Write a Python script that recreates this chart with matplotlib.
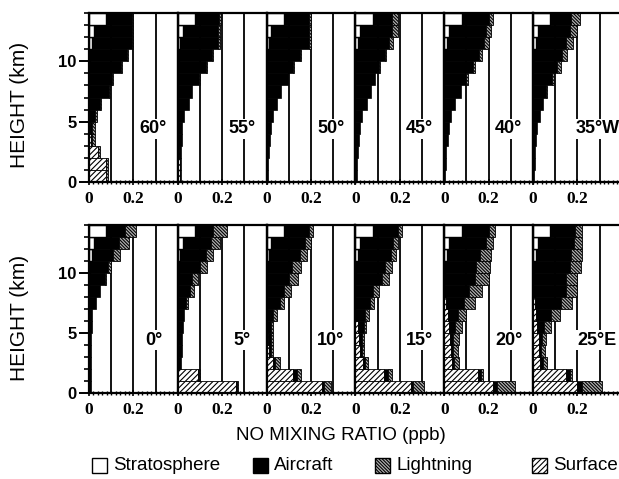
import numpy as np
import matplotlib.pyplot as plt
from matplotlib.patches import Rectangle
from matplotlib.ticker import MultipleLocator

plt.rcParams['font.family'] = ['Liberation Sans', 'DejaVu Sans']
plt.rcParams['hatch.linewidth'] = 0.8

# height bins 0-1 km ... 13-14 km (bottom to top)
height_bins = np.arange(14) + 0.5

# NO mixing ratio (ppb) by source, one list per panel, bins from the ground up
stratosphere = [0, 0, 0, 0, 0, 0, 0, 0, 0, 0, 0.004, 0.012, 0.022, 0.078]

top_labels = ['60°', '55°', '50°', '45°', '40°', '35°W']
surface_top = [
    [0.075, 0.075, 0.04, 0.01, 0.005, 0, 0, 0, 0, 0, 0, 0, 0, 0],
    [0.008, 0.008, 0.005, 0.003, 0, 0, 0, 0, 0, 0, 0, 0, 0, 0],
    [0, 0, 0, 0, 0, 0, 0, 0, 0, 0, 0, 0, 0, 0],
    [0, 0, 0, 0, 0, 0, 0, 0, 0, 0, 0, 0, 0, 0],
    [0, 0, 0, 0, 0, 0, 0, 0, 0, 0, 0, 0, 0, 0],
    [0, 0, 0, 0, 0, 0, 0, 0, 0, 0, 0, 0, 0, 0],
]
aircraft_top = [
    [0, 0, 0, 0.005, 0.01, 0.029, 0.051, 0.088, 0.105, 0.142, 0.165, 0.183, 0.173, 0.117],
    [0.007, 0.007, 0.01, 0.017, 0.02, 0.03, 0.05, 0.065, 0.095, 0.125, 0.151, 0.17, 0.158, 0.107],
    [0.005, 0.008, 0.01, 0.015, 0.02, 0.03, 0.045, 0.065, 0.095, 0.12, 0.146, 0.178, 0.168, 0.112],
    [0.005, 0.008, 0.01, 0.015, 0.02, 0.03, 0.05, 0.07, 0.09, 0.105, 0.131, 0.138, 0.143, 0.087],
    [0.005, 0.008, 0.01, 0.015, 0.02, 0.03, 0.05, 0.075, 0.1, 0.13, 0.151, 0.168, 0.168, 0.122],
    [0.005, 0.007, 0.01, 0.015, 0.02, 0.03, 0.045, 0.06, 0.085, 0.11, 0.126, 0.138, 0.143, 0.092],
]
lightning_top = [
    [0.01, 0.01, 0.01, 0.01, 0.01, 0.005, 0.005, 0.005, 0.005, 0.005, 0.005, 0.005, 0.005, 0.005],
    [0, 0, 0, 0, 0, 0, 0, 0, 0.005, 0.005, 0.005, 0.008, 0.01, 0.01],
    [0, 0, 0, 0, 0, 0, 0, 0, 0, 0.005, 0.005, 0.01, 0.01, 0.01],
    [0, 0, 0, 0, 0, 0, 0, 0, 0, 0.005, 0.005, 0.02, 0.025, 0.025],
    [0, 0, 0, 0, 0, 0, 0, 0, 0.005, 0.01, 0.015, 0.02, 0.02, 0.02],
    [0, 0, 0, 0, 0, 0, 0, 0.005, 0.01, 0.015, 0.025, 0.03, 0.035, 0.04],
]

bottom_labels = ['0°', '5°', '10°', '15°', '20°', '25°E']
surface_bottom = [
    [0, 0, 0, 0, 0, 0, 0, 0, 0, 0, 0, 0, 0, 0],
    [0.26, 0.09, 0.003, 0, 0, 0, 0, 0, 0, 0, 0, 0, 0, 0],
    [0.25, 0.12, 0.03, 0.01, 0.005, 0, 0, 0, 0, 0, 0, 0, 0, 0],
    [0.25, 0.13, 0.035, 0.02, 0.015, 0.01, 0, 0, 0, 0, 0, 0, 0, 0],
    [0.22, 0.15, 0.035, 0.03, 0.025, 0.02, 0.015, 0.01, 0, 0, 0, 0, 0, 0],
    [0.2, 0.15, 0.03, 0.025, 0.025, 0.02, 0.015, 0.01, 0, 0, 0, 0, 0, 0],
]
aircraft_bottom = [
    [0.008, 0.008, 0.008, 0.008, 0.01, 0.012, 0.015, 0.03, 0.05, 0.07, 0.081, 0.098, 0.113, 0.085],
    [0.005, 0.005, 0.012, 0.018, 0.018, 0.025, 0.03, 0.035, 0.055, 0.065, 0.096, 0.113, 0.128, 0.082],
    [0.01, 0.015, 0.01, 0.01, 0.015, 0.02, 0.03, 0.06, 0.08, 0.1, 0.111, 0.138, 0.153, 0.112],
    [0.01, 0.015, 0.01, 0.01, 0.015, 0.027, 0.045, 0.065, 0.08, 0.12, 0.131, 0.148, 0.148, 0.112],
    [0.02, 0.015, 0.01, 0.01, 0.015, 0.03, 0.045, 0.08, 0.11, 0.14, 0.141, 0.148, 0.168, 0.122],
    [0.02, 0.015, 0.015, 0.01, 0.015, 0.03, 0.065, 0.115, 0.15, 0.15, 0.161, 0.158, 0.163, 0.112],
]
lightning_bottom = [
    [0, 0, 0, 0, 0, 0, 0, 0, 0, 0.005, 0.015, 0.03, 0.045, 0.05],
    [0.005, 0.005, 0, 0, 0, 0, 0, 0.01, 0.02, 0.025, 0.03, 0.035, 0.04, 0.06],
    [0.03, 0.02, 0.02, 0.01, 0.01, 0.01, 0.015, 0.02, 0.03, 0.04, 0.04, 0.03, 0.025, 0.02],
    [0.05, 0.02, 0.01, 0.01, 0.01, 0.01, 0.015, 0.02, 0.025, 0.03, 0.03, 0.025, 0.02, 0.02],
    [0.08, 0.01, 0.02, 0.02, 0.025, 0.03, 0.04, 0.05, 0.06, 0.06, 0.06, 0.05, 0.03, 0.03],
    [0.09, 0.01, 0.02, 0.02, 0.02, 0.03, 0.04, 0.05, 0.05, 0.05, 0.05, 0.05, 0.035, 0.03],
]

source_names = ['Stratosphere', 'Aircraft', 'Lightning', 'Surface']
source_style = {
    'Stratosphere': dict(color='white', edgecolor='black', linewidth=1.0),
    'Surface': dict(color='white', edgecolor='black', hatch='//////', linewidth=0.6),
    'Aircraft': dict(color='black', edgecolor='black', linewidth=0.5),
    'Lightning': dict(color='#b0b0b0', edgecolor='black', hatch='\\' * 10, linewidth=0.6),
}

W, H = 619, 479
fig = plt.figure(figsize=(W / 100, H / 100), dpi=100)


def add_px_axes(x0, y_top, w, h):
    return fig.add_axes([x0 / W, 1 - (y_top + h) / H, w / W, h / H])


def draw_panel(ax, label, surf, air, light, first):
    left = np.zeros(14)
    order = [('Stratosphere', stratosphere), ('Surface', surf),
             ('Aircraft', air), ('Lightning', light)]
    for name, vals in order:
        vals = np.asarray(vals, dtype=float)
        keep = vals > 0
        ax.barh(height_bins[keep], vals[keep], height=1.0, left=left[keep],
                zorder=2, **source_style[name])
        left = left + vals
    for xv in [0.1, 0.2, 0.3]:
        ax.axvline(xv, color='black', lw=1.3, zorder=1)
    ax.set_xlim(0, 0.4)
    ax.set_ylim(0, 14)
    for sp in ax.spines.values():
        sp.set_linewidth(1.6)
        sp.set_zorder(5)
    ax.set_xticks([0, 0.2])
    ax.set_xticklabels(['0', '0.2'], family='Liberation Serif',
                       fontweight='bold', fontsize=12.5)
    ax.xaxis.set_minor_locator(MultipleLocator(0.02))
    ax.tick_params(axis='x', which='major', direction='inout', length=5, width=1.2, pad=4)
    ax.tick_params(axis='x', which='minor', direction='inout', length=3, width=1.0)
    if first:
        ax.set_yticks([0, 5, 10])
        ax.set_yticklabels(['0', '5', '10'], fontweight='bold', fontsize=12)
        ax.yaxis.set_minor_locator(MultipleLocator(1))
        ax.tick_params(axis='y', which='major', direction='out', length=7, width=1.4, pad=2)
        ax.tick_params(axis='y', which='minor', direction='out', length=3.5, width=1.2)
    else:
        ax.set_yticks([])
    ax.text(0.29, 4.4, label, ha='center', va='center', fontsize=13,
            fontweight='bold', zorder=6,
            bbox=dict(facecolor='white', edgecolor='none', pad=1.0))


panel_w = 88.8
for i in range(6):
    ax = add_px_axes(89 + i * panel_w, 13, panel_w, 169)
    draw_panel(ax, top_labels[i], surface_top[i], aircraft_top[i],
               lightning_top[i], i == 0)
    ax = add_px_axes(89 + i * panel_w, 225, panel_w, 168)
    draw_panel(ax, bottom_labels[i], surface_bottom[i], aircraft_bottom[i],
               lightning_bottom[i], i == 0)

fig.text(20 / W, 1 - 105 / H, 'HEIGHT (km)', rotation=90, ha='center',
         va='center', fontsize=15)
fig.text(20 / W, 1 - 318 / H, 'HEIGHT (km)', rotation=90, ha='center',
         va='center', fontsize=15)
fig.text(341 / W, 1 - 436 / H, 'NO MIXING RATIO (ppb)', ha='center',
         va='center', fontsize=13.5)

# legend boxes placed along the bottom
legend_x = [92, 253, 375, 532]
for name, x0 in zip(source_names, legend_x):
    st = source_style[name]
    rect = Rectangle((x0 / W, 1 - 473 / H), 15 / W, 15 / H,
                     transform=fig.transFigure, facecolor=st['color'],
                     edgecolor='black', hatch=st.get('hatch'), linewidth=1.0)
    fig.add_artist(rect)
    fig.text((x0 + 21) / W, 1 - 465 / H, name, ha='left', va='center',
             fontsize=13.5)

fig.savefig('out.png', dpi=100)
